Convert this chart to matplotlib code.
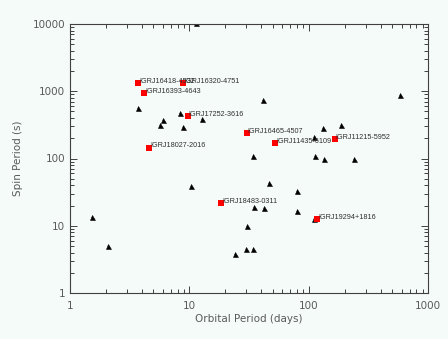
import matplotlib
matplotlib.use("Agg")
import matplotlib.pyplot as plt
from matplotlib.ticker import LogLocator, FixedLocator, NullFormatter

# Black triangles: other sources (orbital period in days, spin period in s)
tri_orbital = [1.54, 2.08, 3.74, 5.63, 6.05, 8.36, 8.91, 10.33, 11.4, 12.7,
               24.3, 29.9, 30.5, 34.4, 34.4, 35.1, 41.7, 42.0, 46.1, 79.9,
               79.9, 110, 111, 112, 133, 135, 187, 242, 583]
tri_spin = [13.6, 5.0, 564, 320, 380, 470, 299, 39.3, 10500, 383,
            3.74, 4.56, 9.75, 4.56, 108, 19.3, 733, 18.1, 43.7, 33.4,
            16.4, 12.6, 210, 110, 286, 98.3, 310, 100, 889]

# Red squares: labelled IGR sources
igr_names = ["IGRJ16418-4532", "IGRJ16320-4751", "IGRJ16393-4643",
             "IGRJ17252-3616", "IGRJ18027-2016", "IGRJ16465-4507",
             "IGRJ11435-6109", "IGRJ11215-5952", "IGRJ18483-0311",
             "IGRJ19294+1816"]
igr_orbital = [3.7, 8.9, 4.2, 9.7, 4.6, 30.2, 52.5, 165, 18.5, 117]
igr_spin = [1320, 1320, 950, 430, 145, 240, 168, 195, 21.5, 12.6]

x_ticklabels = ["1", "10", "100", "1000"]
y_ticklabels = ["1", "10", "100", "1000", "10000"]

bg = "#F5FBF8"
fig = plt.figure(figsize=(4.48, 3.39), dpi=100, facecolor=bg)
ax = fig.add_axes([70/448, 1-293/339, 358/448, 269/339], facecolor=bg)
ax.set_xscale("log")
ax.set_yscale("log")
ax.set_xlim(1, 1000)
ax.set_ylim(1, 10000)

ax.plot(tri_orbital, tri_spin, linestyle="none", marker="^", ms=3.6,
        color="black", mec="black", mew=0.4)
ax.plot(igr_orbital, igr_spin, linestyle="none", marker="s", ms=4.6,
        color="#FF0000", mec="#FF0000", mew=0)
for n, xo, yo in zip(igr_names, igr_orbital, igr_spin):
    ax.annotate(n, (xo, yo), xytext=(0.8, 1.2), textcoords="offset points",
                ha="left", va="center", fontsize=5.2, color="#303030",
                family="Liberation Sans")

ax.xaxis.set_major_locator(FixedLocator([1, 10, 100, 1000]))
ax.yaxis.set_major_locator(FixedLocator([1, 10, 100, 1000, 10000]))
ax.xaxis.set_minor_locator(LogLocator(base=10, subs=range(2, 10), numticks=20))
ax.yaxis.set_minor_locator(LogLocator(base=10, subs=range(2, 10), numticks=20))
ax.xaxis.set_minor_formatter(NullFormatter())
ax.yaxis.set_minor_formatter(NullFormatter())
ax.set_xticklabels(x_ticklabels)
ax.set_yticklabels(y_ticklabels)

gray = "#5A5A5A"
ax.tick_params(which="both", direction="in", top=True, right=True,
               color="#404040", width=0.7)
ax.tick_params(which="major", length=5, labelsize=7.5, labelcolor=gray)
ax.tick_params(axis="x", which="major", pad=6)
ax.tick_params(axis="y", which="major", pad=3.5)
ax.tick_params(which="minor", length=2.8)
for s in ax.spines.values():
    s.set_color("#404040")
    s.set_linewidth(0.8)

ax.set_xlabel("Orbital Period (days)", fontsize=7.5, color=gray, labelpad=2)
ax.set_ylabel("Spin Period (s)", fontsize=7.5, color=gray, labelpad=7)

fig.savefig("out.png", dpi=100, facecolor=bg)
